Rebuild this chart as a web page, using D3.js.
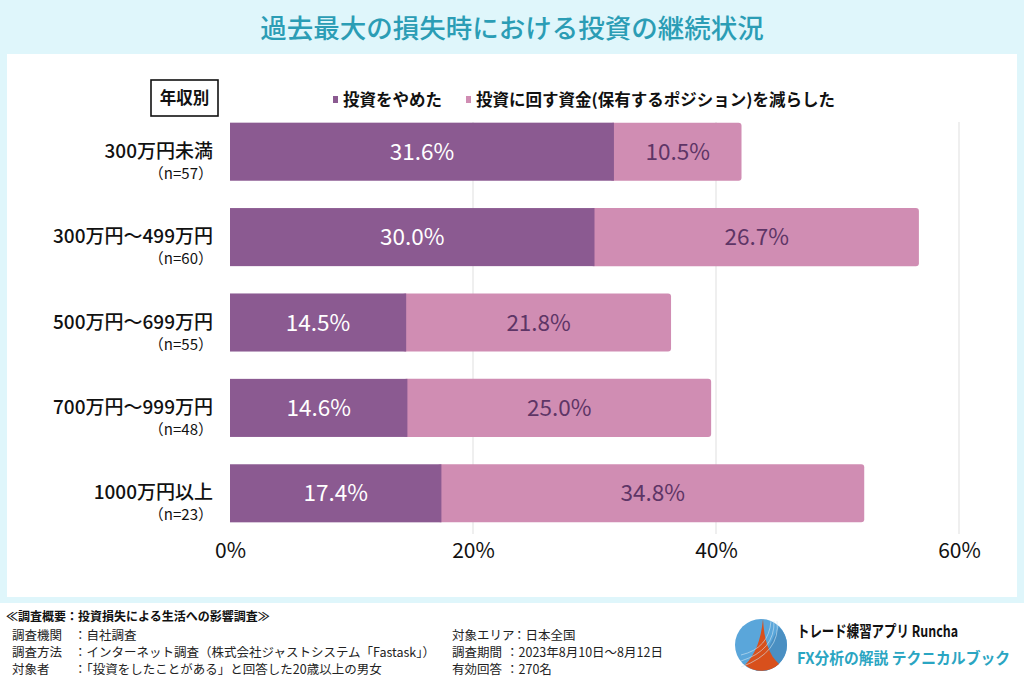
<!DOCTYPE html>
<html><head><meta charset="utf-8">
<script src="https://cdn.jsdelivr.net/npm/d3@7/dist/d3.min.js"></script>
<style>
html,body{margin:0;padding:0;background:#fff;}
svg{display:block;font-family:"Noto Sans CJK JP","Noto Sans",sans-serif;}
</style></head>
<body>
<svg id="c" width="1024" height="683"></svg>
<script>
const title = "過去最大の損失時における投資の継続状況";
const categories = ["300万円未満","300万円～499万円","500万円～699万円","700万円～999万円","1000万円以上"];
const nLabels = ["（n=57）","（n=60）","（n=55）","（n=48）","（n=23）"];
const quitValues = [31.6, 30.0, 14.5, 14.6, 17.4];
const reduceValues = [10.5, 26.7, 21.8, 25.0, 34.8];
const seriesNames = ["投資をやめた","投資に回す資金(保有するポジション)を減らした"];
const tickValues = [0, 20, 40, 60];
const groupLabel = "年収別";
const footerTitle = "≪調査概要：投資損失による生活への影響調査≫";
const footerLeft = [["調査機関","自社調査"],["調査方法","インターネット調査（株式会社ジャストシステム「Fastask」）"],["対象者","「投資をしたことがある」と回答した20歳以上の男女"]];
const footerRight = [["対象エリア","日本全国"],["調査期間","2023年8月10日～8月12日"],["有効回答","270名"]];
const brand1 = "トレード練習アプリ  Runcha";
const brand2 = "FX分析の解説  テクニカルブック";

const colQuit = "#8b5a91", colReduce = "#d08db3";
const svg = d3.select("#c");

// background
svg.append("rect").attr("width",1024).attr("height",603).attr("fill","#dff6fb");
svg.append("rect").attr("x",7).attr("y",54).attr("width",1010).attr("height",543).attr("fill","#fff");
svg.append("rect").attr("x",0).attr("y",603).attr("width",1024).attr("height",80).attr("fill","#fff");

svg.append("text").attr("x",512).attr("y",38).attr("text-anchor","middle")
  .attr("font-size",26.5).attr("font-weight",500).attr("fill","#2b9db5").text(title);

const x = d3.scaleLinear().domain([0,60]).range([230,959]);
const y = d3.scaleBand().domain(categories).range([109,536]).paddingInner(0.32).paddingOuter(0.16);

// grid
svg.append("g").selectAll("line").data(tickValues.slice(1)).join("line")
  .attr("x1",d=>x(d)).attr("x2",d=>x(d)).attr("y1",122).attr("y2",534)
  .attr("stroke","#e4e4e4").attr("stroke-width",1.2);

// axis
const axis = d3.axisBottom(x).tickValues(tickValues).tickFormat(d=>d+"%").tickSize(0).tickPadding(0);
const ax = svg.append("g").attr("transform","translate(0,551)").call(axis);
ax.select(".domain").remove();
ax.selectAll("text").attr("font-size",21).attr("fill","#111").attr("font-family","'Noto Sans CJK JP',sans-serif").attr("dy","0.35em");

// bars
const rows = svg.append("g").selectAll("g").data(categories).join("g");
rows.append("rect").attr("x",(d,i)=>x(quitValues[i])-4).attr("y",d=>y(d))
  .attr("width",(d,i)=>x(quitValues[i]+reduceValues[i])-x(quitValues[i])+4).attr("height",y.bandwidth())
  .attr("rx",3).attr("fill",colReduce);
rows.append("rect").attr("x",x(0)).attr("y",d=>y(d))
  .attr("width",(d,i)=>x(quitValues[i])-x(0)).attr("height",y.bandwidth()).attr("fill",colQuit);
rows.append("text").attr("x",(d,i)=>(x(0)+x(quitValues[i]))/2).attr("y",d=>y(d)+y.bandwidth()/2)
  .attr("dy","0.36em").attr("text-anchor","middle").attr("font-size",22.5).attr("fill","#fff")
  .text((d,i)=>quitValues[i].toFixed(1)+"%");
rows.append("text").attr("x",(d,i)=>(x(quitValues[i])+x(quitValues[i]+reduceValues[i]))/2).attr("y",d=>y(d)+y.bandwidth()/2)
  .attr("dy","0.36em").attr("text-anchor","middle").attr("font-size",22.5).attr("fill","#5e3566")
  .text((d,i)=>reduceValues[i].toFixed(1)+"%");
rows.append("text").attr("x",213).attr("y",d=>y(d)+y.bandwidth()/2+6).attr("text-anchor","end")
  .attr("font-size",19).attr("font-weight",500).attr("fill","#111").text(d=>d);
rows.append("text").attr("x",213).attr("y",d=>y(d)+y.bandwidth()/2+27).attr("text-anchor","end")
  .attr("font-size",15).attr("fill","#111").text((d,i)=>nLabels[i]);

// group label box
svg.append("rect").attr("x",151).attr("y",80).attr("width",67).attr("height",36)
  .attr("fill","#fff").attr("stroke","#111").attr("stroke-width",1.6);
svg.append("text").attr("x",184.5).attr("y",104).attr("text-anchor","middle")
  .attr("font-size",16.5).attr("font-weight",700).attr("fill","#111").text(groupLabel);

// legend
const leg = [{x:333,c:colQuit},{x:466,c:colReduce}];
leg.forEach((l,i)=>{
  svg.append("rect").attr("x",l.x).attr("y",96).attr("width",5).attr("height",7).attr("fill",l.c);
  svg.append("text").attr("x",l.x+10).attr("y",106).attr("font-size",16.5).attr("font-weight",700)
    .attr("fill","#111").text(seriesNames[i]);
});

// footer
svg.append("text").attr("x",6).attr("y",621).attr("font-size",12).attr("font-weight",700).attr("fill","#111").text(footerTitle);
footerLeft.forEach((r,i)=>{
  svg.append("text").attr("x",12).attr("y",640+i*17).attr("font-size",12.5).attr("fill","#222").text(r[0]);
  svg.append("text").attr("x",74).attr("y",640+i*17).attr("font-size",12.5).attr("fill","#222").text("：" + r[1]);
});
footerRight.forEach((r,i)=>{
  svg.append("text").attr("x",452).attr("y",640+i*17).attr("font-size",12.5).attr("fill","#222").text(r[0]);
  svg.append("text").attr("x",r[0].length>4?513:506).attr("y",640+i*17).attr("font-size",12.5).attr("fill","#222").text((r[0].length>4?"":"  ")+"：" + r[1]);
});

// logo
const lg = svg.append("g").attr("transform","translate(761,645)");
lg.append("circle").attr("r",26).attr("fill","#5aa6da");
lg.append("path").attr("d","M 26 0 A 26 26 0 0 1 -5 25.5 L 18 -18 A 26 26 0 0 1 26 0 Z").attr("fill","#4a8fc2");
lg.append("path").attr("d","M 2 -26 C 3 -5 8 10 18 19 A 26 26 0 0 1 -16 20 C -6 10 0 -5 2 -26 Z").attr("fill","#d8501c");
[10,16,22].forEach(r=>lg.append("path").attr("d",`M ${-20} ${r} Q ${r-2} ${r/3} ${r/2+5} -24`).attr("fill","none").attr("stroke","#cfe6f3").attr("stroke-opacity",0.6).attr("stroke-width",1));
svg.append("text").attr("x",797).attr("y",637).attr("font-size",16).attr("font-weight",700).attr("fill","#111")
  .attr("textLength",161).attr("lengthAdjust","spacingAndGlyphs").text(brand1);
svg.append("text").attr("x",797).attr("y",664).attr("font-size",15.5).attr("font-weight",700).attr("fill","#2aa5c2")
  .attr("textLength",213).attr("lengthAdjust","spacingAndGlyphs").text(brand2);
</script>
</body></html>
